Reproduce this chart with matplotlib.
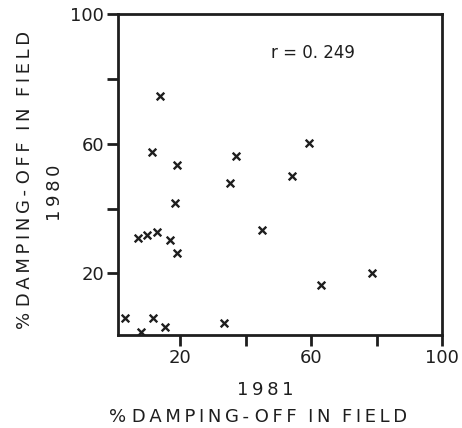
import matplotlib
matplotlib.use("Agg")
import matplotlib.pyplot as plt

# damping-off in field, %
damp_1981 = [13.9, 11.5, 19.0, 37.0, 59.3, 54.3, 35.2, 18.4, 7.1, 10.0,
             12.9, 16.9, 19.1, 44.9, 78.7, 62.9, 3.2, 8.0, 11.8, 15.4, 33.4]
damp_1980 = [74.7, 57.3, 53.4, 56.3, 60.2, 50.1, 48.0, 41.6, 30.9, 31.7,
             32.8, 30.4, 26.2, 33.3, 20.1, 16.5, 6.1, 2.0, 6.1, 3.6, 4.8]
r_text = "r = 0. 249"
x_ticks = [20, 40, 60, 80, 100]
x_ticklabels = ["20", "", "60", "", "100"]
y_ticks = [20, 40, 60, 80, 100]
y_ticklabels = ["20", "", "60", "", "100"]


def spaced(s, sep="\u2009"):
    # the printed labels are letter-spaced
    return sep.join(s)


label = "% " + spaced("DAMPING-") + " " + spaced("OFF") + "  " + spaced("IN") + "  " + spaced("FIELD")

ink = "#1e1e1e"
fig = plt.figure(figsize=(4.62, 4.28), dpi=100)
ax = fig.add_axes([118 / 462, 1 - 335 / 428, 324 / 462, 321 / 428])

ax.scatter(damp_1981, damp_1980, marker="x", s=30, linewidths=1.7, color=ink)
ax.text(60.5, 87.9, r_text, ha="center", va="center", fontsize=12, color=ink)

ax.set_xlim(1, 100)
ax.set_ylim(1, 100)
ax.set_xticks(x_ticks)
ax.set_xticklabels(x_ticklabels)
ax.set_yticks(y_ticks)
ax.set_yticklabels(y_ticklabels)
ax.tick_params(direction="out", length=8, width=2, colors=ink, labelsize=13, pad=2)
for sp in ax.spines.values():
    sp.set_linewidth(2)
    sp.set_color(ink)

fig.text(265 / 462, 1 - 390 / 428, spaced("1981"), ha="center", va="center",
         fontsize=13, color=ink)
fig.text(258 / 462, 1 - 417 / 428, label, ha="center", va="center", fontsize=13, color=ink)
fig.text(55 / 462, 1 - 193 / 428, spaced("1980"), ha="center", va="center",
         rotation=90, fontsize=13, color=ink)
fig.text(25 / 462, 1 - 180 / 428, label, ha="center", va="center", rotation=90,
         fontsize=13, color=ink)

fig.savefig("out.png", dpi=100, facecolor="white")
